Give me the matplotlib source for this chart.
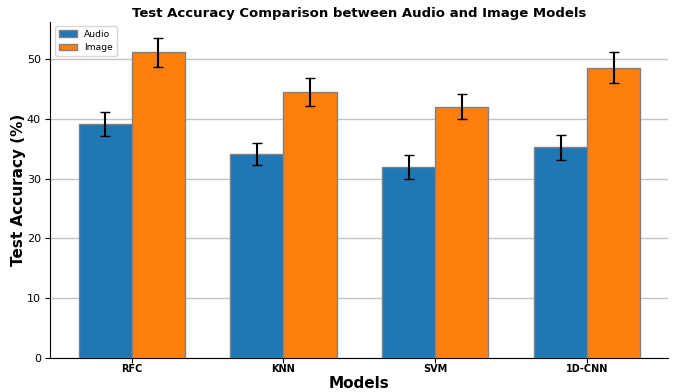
import numpy as np
import matplotlib
matplotlib.use("Agg")
import matplotlib.pyplot as plt

# Mean test accuracy (%) and std across runs
models = ['RFC', 'KNN', 'SVM', '1D-CNN']
audio_acc = [39.2, 34.1, 32.0, 35.3]
audio_std = [2.0, 1.85, 2.0, 2.1]
image_acc = [51.2, 44.5, 42.1, 48.6]
image_std = [2.45, 2.35, 2.1, 2.6]

x = np.arange(len(models))
width = 0.35

fig, ax = plt.subplots(figsize=(6.73, 3.92), dpi=100)

ax.bar(x - width/2, audio_acc, width, yerr=audio_std, capsize=3.8,
       label='Audio', color='#1f77b4', edgecolor='grey', zorder=3)
ax.bar(x + width/2, image_acc, width, yerr=image_std, capsize=3.8,
       label='Image', color='#ff7f0e', edgecolor='grey', zorder=3)

ax.set_title('Test Accuracy Comparison between Audio and Image Models',
             fontsize=9.5, fontweight='bold', pad=3)
ax.set_xlabel('Models', fontsize=11, fontweight='bold', labelpad=1)
ax.set_ylabel('Test Accuracy (%)', fontsize=11, fontweight='bold', labelpad=0.5)
ax.set_xticks(x)
ax.set_xticklabels(models, fontsize=7, fontweight='bold')
ax.tick_params(axis='x', pad=1)
ax.tick_params(axis='y', labelsize=8)

ax.yaxis.grid(True, color='#c4c4c4', linewidth=1, zorder=0)
ax.set_axisbelow(True)
ax.spines['top'].set_visible(False)
ax.spines['right'].set_visible(False)

ax.legend(loc='upper left', fontsize=6.6)

plt.subplots_adjust(left=0.075, right=0.993, top=0.945, bottom=0.087)
plt.savefig('out.png')
plt.close()
